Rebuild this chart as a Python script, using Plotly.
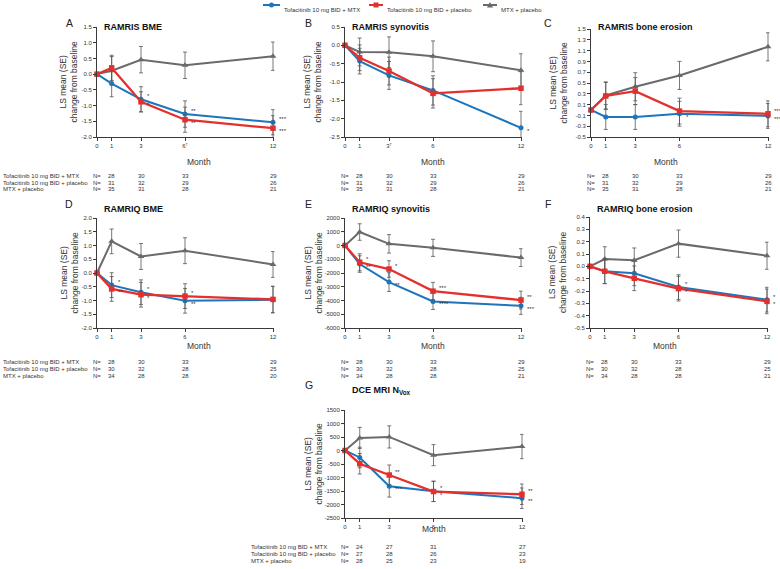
import plotly.graph_objects as go

W, H = 780, 569
FONT = "Liberation Sans, Arial, Helvetica, sans-serif"

months = [0, 1, 3, 6, 12]
groups = ["Tofacitinib 10 mg BID + MTX", "Tofacitinib 10 mg BID + placebo", "MTX + placebo"]

# A - RAMRIS BME
a_tofa_mtx = [0, -0.30, -0.80, -1.27, -1.53]
a_tofa_pbo = [0, 0.20, -0.88, -1.45, -1.72]
a_mtx_pbo = [0, 0.11, 0.46, 0.28, 0.57]
a_se = [[0, 0.42, 0.40, 0.42, 0.40], [0, 0.40, 0.32, 0.40, 0.40], [0, 0.45, 0.42, 0.42, 0.45]]
a_n = [[28, 30, 33, 29], [31, 32, 29, 26], [35, 31, 28, 21]]
a_stars = [["", "", "*", "**", "***"], ["", "", "*", "**", "***"]]

# B - RAMRIS synovitis
b_tofa_mtx = [0, -0.43, -0.82, -1.23, -2.25]
b_tofa_pbo = [0, -0.34, -0.70, -1.31, -1.17]
b_mtx_pbo = [0, -0.18, -0.19, -0.30, -0.68]
b_se = [[0, 0.35, 0.38, 0.40, 0.45], [0, 0.35, 0.38, 0.40, 0.45], [0, 0.38, 0.42, 0.42, 0.45]]
b_n = [[28, 30, 33, 29], [31, 32, 29, 26], [35, 31, 28, 21]]
b_stars = [["", "", "", "", "*"], ["", "", "", "", ""]]

# C - RAMRIS bone erosion
c_tofa_mtx = [0, -0.13, -0.13, -0.07, -0.11]
c_tofa_pbo = [0, 0.26, 0.35, -0.02, -0.07]
c_mtx_pbo = [0, 0.27, 0.43, 0.64, 1.17]
c_se = [[0, 0.23, 0.23, 0.23, 0.23], [0, 0.25, 0.25, 0.24, 0.24], [0, 0.25, 0.26, 0.26, 0.26]]
c_n = [[28, 30, 33, 29], [31, 32, 29, 26], [35, 31, 28, 21]]
c_stars = [["", "", "", "*", "***"], ["", "", "", "", "***"]]

# D - RAMRIQ BME
d_tofa_mtx = [0, -0.44, -0.70, -1.01, -0.97]
d_tofa_pbo = [0, -0.58, -0.79, -0.84, -0.96]
d_mtx_pbo = [0, 1.15, 0.60, 0.81, 0.31]
d_se = [[0, 0.45, 0.45, 0.45, 0.48], [0, 0.45, 0.45, 0.45, 0.48], [0, 0.45, 0.47, 0.47, 0.47]]
d_n = [[28, 30, 33, 29], [30, 32, 28, 25], [34, 28, 28, 20]]
d_stars = [["", "*", "*", "**", ""], ["", "**", "*", "*", ""]]

# E - RAMRIQ synovitis
e_tofa_mtx = [0, -1350, -2660, -4070, -4390]
e_tofa_pbo = [0, -1220, -1710, -3320, -3970]
e_mtx_pbo = [0, 980, 120, -170, -880]
e_se = [[0, 600, 680, 580, 620], [0, 620, 600, 640, 650], [0, 600, 670, 620, 650]]
e_n = [[28, 30, 33, 29], [30, 32, 28, 25], [34, 28, 28, 21]]
e_stars = [["", "**", "**", "****", "***"], ["", "*", "*", "***", "**"]]

# F - RAMRIQ bone erosion
f_tofa_mtx = [0, -0.04, -0.057, -0.168, -0.27]
f_tofa_pbo = [0, -0.04, -0.097, -0.181, -0.284]
f_mtx_pbo = [0, 0.059, 0.049, 0.184, 0.086]
f_se = [[0, 0.10, 0.10, 0.10, 0.10], [0, 0.10, 0.10, 0.10, 0.10], [0, 0.10, 0.10, 0.11, 0.11]]
f_n = [[28, 30, 33, 29], [30, 32, 28, 25], [34, 28, 28, 21]]
f_stars = [["", "", "", "*", "*"], ["", "", "", "*", "*"]]

# G - DCE MRI N_Vox
g_tofa_mtx = [0, -258, -1325, -1510, -1767]
g_tofa_pbo = [0, -490, -908, -1520, -1620]
g_mtx_pbo = [0, 466, 503, -172, 147]
g_se = [[0, 380, 400, 380, 380], [0, 380, 370, 370, 380], [0, 390, 410, 390, 450]]
g_n = [[24, 27, 31, 27], [27, 28, 26, 23], [28, 25, 23, 19]]
g_stars = [["", "", "***", "*", "**"], ["", "", "**", "*", "**"]]


def ticks(lo, hi, step, dec):
    n = int(round((hi - lo) / step))
    vals = []
    for k in range(n + 1):
        v = round(lo + k * step, 6)
        if abs(v) < 1e-9:
            v = 0.0
        vals.append(v)
    return vals, [f"{v:.{dec}f}" for v in vals]


xt_plain = ["0", "1", "3", "6", "12"]
panels = [
    dict(letter="A", title="RAMRIS BME", data=(a_tofa_mtx, a_tofa_pbo, a_mtx_pbo), se=a_se, n=a_n,
         stars=a_stars, yt=ticks(-2.0, 1.5, 0.5, 1), xt=["0", "1", "3", "6<sup>†</sup>", "12"], rows=True),
    dict(letter="B", title="RAMRIS synovitis", data=(b_tofa_mtx, b_tofa_pbo, b_mtx_pbo), se=b_se, n=b_n,
         stars=b_stars, yt=ticks(-2.5, 0.5, 0.5, 1), xt=["0", "1", "3<sup>†</sup>", "6", "12"], rows=False),
    dict(letter="C", title="RAMRIS bone erosion", data=(c_tofa_mtx, c_tofa_pbo, c_mtx_pbo), se=c_se, n=c_n,
         stars=c_stars, yt=ticks(-0.5, 1.5, 0.2, 1), xt=xt_plain, rows=False),
    dict(letter="D", title="RAMRIQ BME", data=(d_tofa_mtx, d_tofa_pbo, d_mtx_pbo), se=d_se, n=d_n,
         stars=d_stars, yt=ticks(-2.0, 2.0, 0.5, 1), xt=xt_plain, rows=True),
    dict(letter="E", title="RAMRIQ synovitis", data=(e_tofa_mtx, e_tofa_pbo, e_mtx_pbo), se=e_se, n=e_n,
         stars=e_stars, yt=ticks(-6000, 2000, 1000, 0), xt=xt_plain, rows=False),
    dict(letter="F", title="RAMRIQ bone erosion", data=(f_tofa_mtx, f_tofa_pbo, f_mtx_pbo), se=f_se, n=f_n,
         stars=f_stars, yt=ticks(-0.5, 0.4, 0.1, 1), xt=xt_plain, rows=False),
    dict(letter="G", title="DCE MRI N<sub>Vox</sub>", data=(g_tofa_mtx, g_tofa_pbo, g_mtx_pbo), se=g_se, n=g_n,
         stars=g_stars, yt=ticks(-2500, 1500, 500, 0), xt=xt_plain, rows=True),
]

# pixel geometry: (x of month 0, x of month 12, top, bottom, letter y, ytitle offset, letter offset)
geom = [
    (97, 273, 27, 137, 15, 28.5, 33.5),
    (345, 521, 27, 137, 15, 32.5, 36.5),
    (591, 768, 29, 137, 15, 32.5, 37.5),
    (97, 273, 218, 328, 204, 28.5, 34),
    (345, 521, 218, 328, 204, 32.5, 36.5),
    (590, 767, 217, 328, 204, 32.5, 37),
    (345, 522, 410, 518, 393, 32.5, 36.5),
]

colors = ["#1d75bc", "#e4302d", "#6a6a6c"]
symbols = ["circle", "square", "triangle-up"]
sizes = [5, 5.5, 6]
widths = [2, 2.3, 2]
ink = "#3a3a3a"

fig = go.Figure()
annotations = []
shapes = []


def px(x):
    return x / W


def py(y):
    return 1 - y / H


for i, (p, g) in enumerate(zip(panels, geom)):
    k = "" if i == 0 else str(i + 1)
    xa, ya = "x" + k, "y" + k
    x0, x12, top, bot, lab_y, yoff, loff = g
    right = x0 + (x12 - x0) * 12.1 / 12
    yv, ytxt = p["yt"]
    fig.update_layout({
        "xaxis" + k: dict(domain=[px(x0), px(right)], anchor=ya, range=[0, 12.1],
                          tickvals=months, ticktext=p["xt"], showline=True, linecolor=ink,
                          linewidth=1, ticks="outside", ticklen=3, tickcolor=ink,
                          tickfont=dict(size=6, color="#333", family=FONT),
                          showgrid=False, zeroline=False, automargin=False),
        "yaxis" + k: dict(domain=[py(bot), py(top)], anchor=xa, range=[yv[0], yv[-1]],
                          tickvals=yv, ticktext=ytxt, showline=True, linecolor=ink,
                          linewidth=1, ticks="outside", ticklen=3, tickcolor=ink,
                          tickfont=dict(size=6, color="#333", family=FONT),
                          showgrid=False, zeroline=False, automargin=False),
    })
    for s in (2, 0, 1):
        fig.add_trace(go.Scatter(
            x=months, y=p["data"][s], xaxis=xa, yaxis=ya, mode="lines+markers",
            line=dict(color=colors[s], width=widths[s]),
            marker=dict(symbol=symbols[s], size=sizes[s], color=colors[s]),
            error_y=dict(type="data", array=p["se"][s], color="#555", thickness=0.8, width=2),
            cliponaxis=False, showlegend=False, hoverinfo="skip",
        ))
    # significance stars
    for s in (0, 1):
        other = p["data"][1 - s]
        for j, txt in enumerate(p["stars"][s]):
            if not txt:
                continue
            up = p["data"][s][j] >= other[j]
            annotations.append(dict(x=months[j], y=p["data"][s][j], xref=xa, yref=ya, text=txt,
                                    showarrow=False, xanchor="left", yanchor="middle",
                                    xshift=4, yshift=3 if up else -3,
                                    font=dict(size=6, color="#333", family=FONT)))
    # letter, title, axis titles
    annotations.append(dict(x=px(x0 - loff), y=py(lab_y), xref="paper", yref="paper", text=p["letter"],
                            showarrow=False, font=dict(size=10.5, color="#222", family=FONT)))
    annotations.append(dict(x=px(x0 + 5), y=py(lab_y + 5), xref="paper", yref="paper",
                            text="<b>" + p["title"] + "</b>", showarrow=False, xanchor="left",
                            font=dict(size=9, color="#111", family=FONT)))
    annotations.append(dict(x=px(x0 - yoff), y=py((top + bot) / 2), xref="paper", yref="paper",
                            text="LS mean (SE)<br>change from baseline", textangle=-90,
                            xanchor="center", yanchor="middle",
                            showarrow=False, font=dict(size=8.5, color="#333", family=FONT)))
    annotations.append(dict(x=px((x0 + x12) / 2), y=py(bot + 17.5), xref="paper", yref="paper",
                            text="Month", showarrow=False, font=dict(size=8.5, color="#333", family=FONT)))
    # N table
    for r in range(3):
        yy = py(bot + 33.5 + 7 * r)
        if p["rows"]:
            annotations.append(dict(x=px(x0 - 96), y=yy, xref="paper", yref="paper", text=groups[r],
                                    showarrow=False, xanchor="left",
                                    font=dict(size=6, color="#333", family=FONT)))
        annotations.append(dict(x=0, y=yy, xref=xa, yref="paper", text="N=", showarrow=False,
                                font=dict(size=6, color="#333", family=FONT)))
        for j, v in enumerate(p["n"][r]):
            annotations.append(dict(x=months[j + 1], y=yy, xref=xa, yref="paper", text=str(v),
                                    showarrow=False, font=dict(size=6, color="#333", family=FONT)))

# legend across the top
leg_y = 5
legend_items = [(263, 280), (369, 383), (483, 497)]
for s, (l0, l1) in enumerate(legend_items):
    c = colors[s]
    shapes.append(dict(type="line", xref="paper", yref="paper", x0=px(l0), x1=px(l1),
                       y0=py(leg_y), y1=py(leg_y), line=dict(color=c, width=2)))
    m = (l0 + l1) / 2
    if s == 0:
        shapes.append(dict(type="circle", xref="paper", yref="paper", x0=px(m - 2.5), x1=px(m + 2.5),
                           y0=py(leg_y + 2.5), y1=py(leg_y - 2.5), fillcolor=c, line=dict(width=0)))
    elif s == 1:
        shapes.append(dict(type="rect", xref="paper", yref="paper", x0=px(m - 2.5), x1=px(m + 2.5),
                           y0=py(leg_y + 2.5), y1=py(leg_y - 2.5), fillcolor=c, line=dict(width=0)))
    else:
        shapes.append(dict(type="path", xref="paper", yref="paper",
                           path=f"M {px(m - 3)} {py(leg_y + 2.5)} L {px(m + 3)} {py(leg_y + 2.5)} "
                                f"L {px(m)} {py(leg_y - 3)} Z",
                           fillcolor=c, line=dict(width=0)))
    annotations.append(dict(x=px(l1 + 2), y=py(leg_y), xref="paper", yref="paper", text=groups[s],
                            showarrow=False, xanchor="left",
                            font=dict(size=6, color="#333", family=FONT)))

fig.update_layout(
    template="none",
    width=W, height=H, margin=dict(l=0, r=0, t=0, b=0, pad=0, autoexpand=False),
    paper_bgcolor="white", plot_bgcolor="white",
    font=dict(family=FONT, color="#333"),
    annotations=annotations, shapes=shapes, showlegend=False,
)

fig.write_html("out.html", config={"displayModeBar": False},
               post_script="document.body.style.margin='0px';document.body.style.overflow='hidden';")
